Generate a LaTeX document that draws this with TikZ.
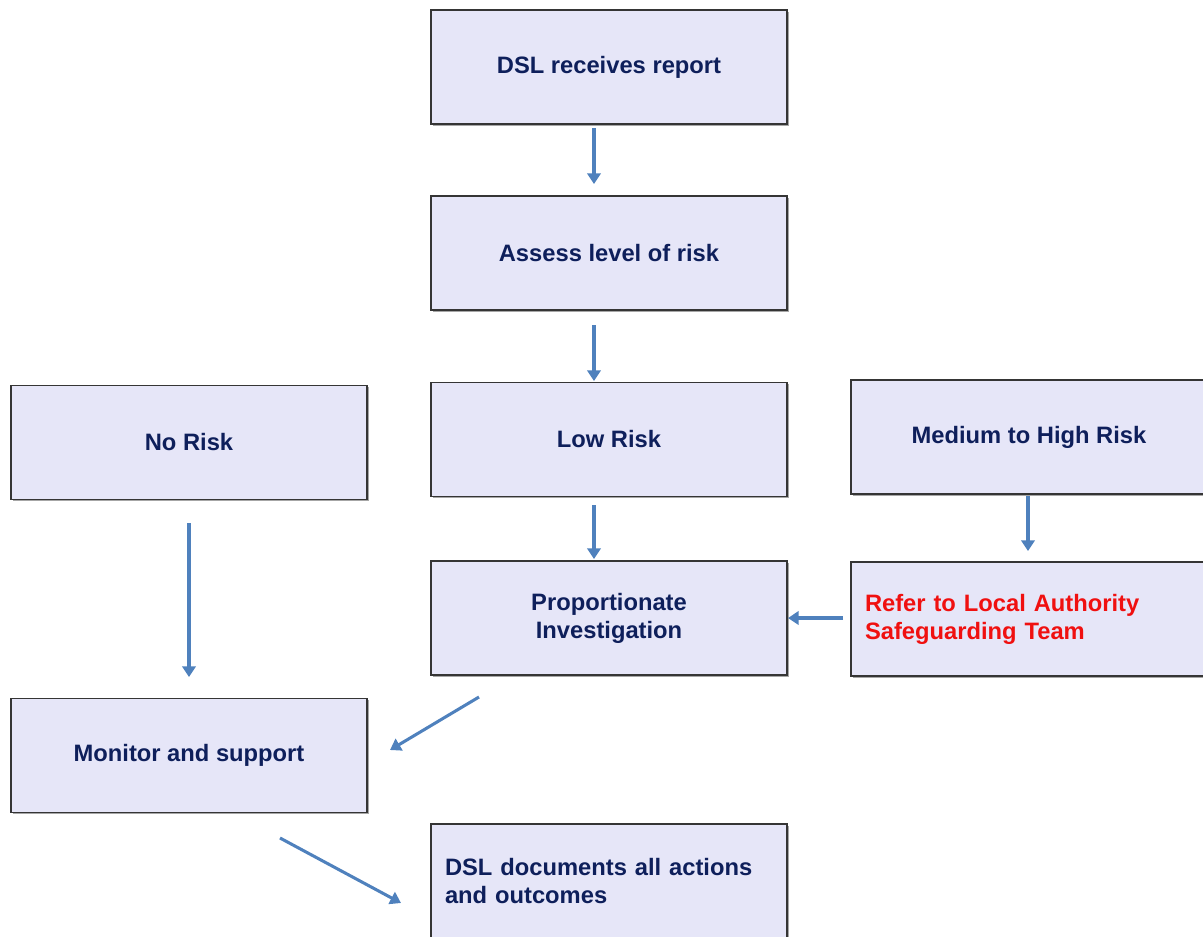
\documentclass[tikz,border=0pt]{standalone}
\usepackage{fontspec}
\setmainfont{Liberation Sans}
\usetikzlibrary{arrows.meta,shadows}
\definecolor{boxfill}{HTML}{E6E6F8}
\definecolor{boxline}{HTML}{353535}
\definecolor{navy}{HTML}{0E1F5B}
\definecolor{arrowc}{HTML}{4F81BD}
\definecolor{refred}{HTML}{F01010}
\tikzset{
  flowbox/.style={draw=boxline, line width=1.1pt, fill=boxfill,
    minimum width=267pt, minimum height=85.5pt, inner sep=0pt,
    font=\fontsize{17.8}{21}\selectfont\bfseries, text=navy, align=center,
    drop shadow={shadow xshift=1.2pt, shadow yshift=-1.2pt, opacity=0.35, fill=black}},
  leftbox/.style={flowbox, align=left, text width=246pt},
  flowarrow/.style={draw=arrowc, line width=2.3pt, -{Triangle[width=10pt,length=8pt]}}
}
\begin{document}
\begin{tikzpicture}[x=0.75pt,y=-0.75pt]
\useasboundingbox (0,0) rectangle (1203,936);
\clip (0,0) rectangle (1203,936);
\node[flowbox] (dsl) at (609,67) {DSL receives report};
\node[flowbox] (assess) at (609,253) {Assess level of risk};
\node[flowbox] (low) at (609,439.5) {Low Risk};
\node[flowbox] (no) at (189,442.5) {No Risk};
\node[flowbox] (med) at (1029,437) {Medium to High Risk};
\node[flowbox] (prop) at (609,618) {Proportionate\\Investigation};
\node[leftbox, text=refred] (refer) at (1029,619) {Refer to Local Authority\\Safeguarding Team};
\node[flowbox] (mon) at (189,755.5) {Monitor and support};
\node[leftbox] (doc) at (609,881) {DSL documents all actions\\and outcomes};

\coordinate (a1s) at (594,128); \coordinate (a1e) at (594,184);
\coordinate (a2s) at (594,325); \coordinate (a2e) at (594,381);
\coordinate (a3s) at (594,505); \coordinate (a3e) at (594,559);
\coordinate (a4s) at (189,523); \coordinate (a4e) at (189,677);
\coordinate (a5s) at (1028,496); \coordinate (a5e) at (1028,551);
\coordinate (a6s) at (843,618); \coordinate (a6e) at (788,618);
\coordinate (a7s) at (479,697); \coordinate (a7e) at (390,750);
\coordinate (a8s) at (280,838); \coordinate (a8e) at (401,903);
\draw[flowarrow] (a1s) -- (a1e);
\draw[flowarrow] (a2s) -- (a2e);
\draw[flowarrow] (a3s) -- (a3e);
\draw[flowarrow] (a4s) -- (a4e);
\draw[flowarrow] (a5s) -- (a5e);
\draw[flowarrow] (a6s) -- (a6e);
\draw[flowarrow] (a7s) -- (a7e);
\draw[flowarrow] (a8s) -- (a8e);
\end{tikzpicture}
\end{document}
